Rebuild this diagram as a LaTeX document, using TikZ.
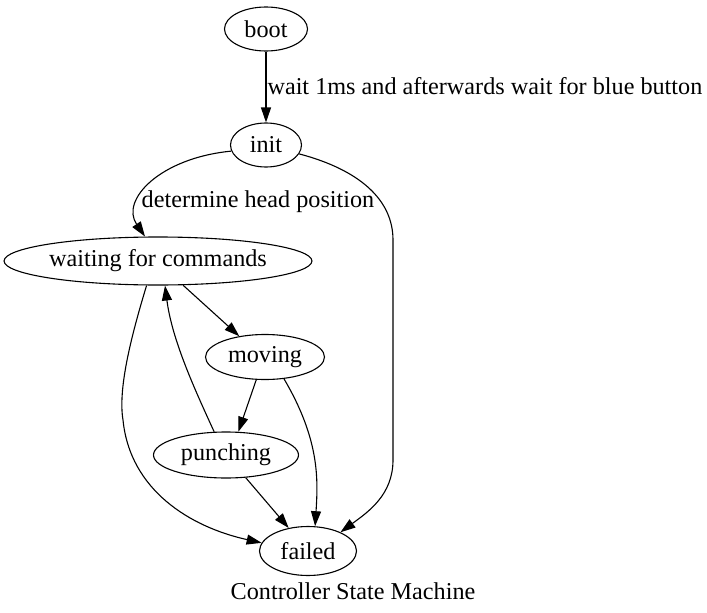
\documentclass[tikz,border=0pt]{standalone}
\usepackage{fontspec}
\setmainfont{Liberation Serif}
\usetikzlibrary{shapes.geometric, arrows.meta}

\begin{document}
\begin{tikzpicture}[x=1pt, y=-1pt, line width=1.1pt,
        stato/.style={draw, ellipse, inner sep=0pt, font=\fontsize{24.2}{28}\selectfont},
        etichetta/.style={font=\fontsize{24.2}{28}\selectfont, inner sep=1pt},
        freccia/.style={-{Triangle[length=15pt, width=10pt]}}]
        % Area del disegno: stesse proporzioni dell'immagine
        \useasboundingbox (0,0) rectangle (707,613);

        % --- Stati (ellissi) ---
        \node[stato, minimum width=83pt, minimum height=44pt] (boot) at (266,29) {boot};
        \node[stato, minimum width=71pt, minimum height=44pt] (init) at (266,145) {init};
        \node[stato, minimum width=306pt, minimum height=48pt] (waiting) at (158,261) {waiting for commands};
        \node[stato, minimum width=119pt, minimum height=45pt] (moving) at (265,357) {moving};
        \node[stato, minimum width=145pt, minimum height=46pt] (punching) at (226,455) {punching};
        \node[stato, minimum width=97pt, minimum height=49pt] (failed) at (308,551) {failed};

        % Titolo sotto il grafo
        \node[etichetta] (titolo) at (353,591) {Controller State Machine};

        % --- Transizioni ---
        % boot -> init
        \draw[freccia] (boot) -- (init);
        \node[etichetta, anchor=west] (lblwait) at (266,86) {wait 1ms and afterwards wait for blue button};

        % init -> waiting for commands
        \draw[freccia] (init.190) .. controls (160,158) and (120,200) .. (waiting.118);
        \node[etichetta] (lblhead) at (258,202) {determine head position};

        % init -> failed (lungo il lato destro)
        \draw[freccia] (init.345) .. controls (360,170) and (393,200) .. (393,240)
            -- (393,460) .. controls (393,495) and (368,512) .. (failed.30);

        % waiting for commands -> moving
        \draw[freccia] (waiting.316) -- (moving.141);

        % waiting for commands -> failed (arco a sinistra)
        \draw[freccia] (waiting.245) .. controls (130,340) and (118,390) .. (123,420)
            .. controls (130,490) and (190,527) .. (failed.170);

        % punching -> waiting for commands
        \draw[freccia] (punching.117) .. controls (195,390) and (172,340) .. (waiting.286);

        % moving -> punching
        \draw[freccia] (moving.249) -- (punching.62);

        % moving -> failed
        \draw[freccia] (moving.311) .. controls (320,440) and (318,480) .. (failed.74);

        % punching -> failed
        \draw[freccia] (punching.311) -- (failed.130);

    \end{tikzpicture}
\end{document}
